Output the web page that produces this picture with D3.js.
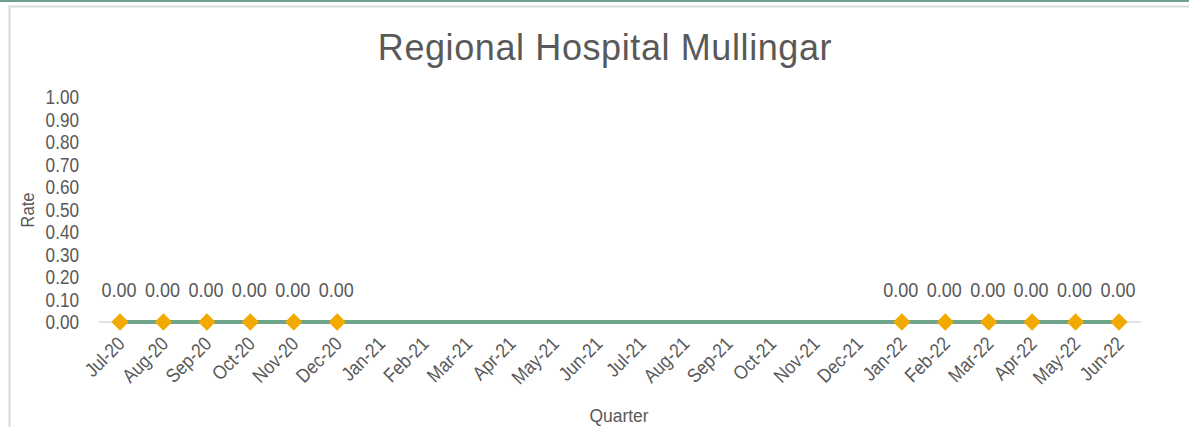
<!DOCTYPE html>
<html>
<head>
<meta charset="utf-8">
<script src="https://cdn.jsdelivr.net/npm/d3@7"></script>
<style>
  body { margin: 0; background: #fff; }
  text { font-family: "Liberation Sans", Arial, sans-serif; fill: #595959; }
</style>
</head>
<body>
<script>
// data
var months = ['Jul-20', 'Aug-20', 'Sep-20', 'Oct-20', 'Nov-20', 'Dec-20', 'Jan-21', 'Feb-21', 'Mar-21', 'Apr-21', 'May-21', 'Jun-21',
  'Jul-21', 'Aug-21', 'Sep-21', 'Oct-21', 'Nov-21', 'Dec-21', 'Jan-22', 'Feb-22', 'Mar-22', 'Apr-22', 'May-22', 'Jun-22']
var rates = [0, 0, 0, 0, 0, 0, null, null, null, null, null, null,
  null, null, null, null, null, null, 0, 0, 0, 0, 0, 0]
var yTicks = [0, 0.1, 0.2, 0.3, 0.4, 0.5, 0.6, 0.7, 0.8, 0.9, 1.0]

var W = 1189
var H = 427
var NARROW = 0.88 // the original uses a condensed-looking face
var svg = d3.select('body').append('svg').attr('width', W).attr('height', H)

// top bar + frame
svg.append('rect').attr('x', 0).attr('y', 0).attr('width', W).attr('height', 2).attr('fill', '#6e9f90')
svg.append('path').attr('d', 'M9.5,' + H + 'V6.5H' + W).attr('fill', 'none').attr('stroke', '#d9d9d9').attr('stroke-width', 2)

var x = d3.scaleBand().domain(months).range([98.3, 1140.7])
var y = d3.scaleLinear().domain([0, 1]).range([322, 97])
function cx (m) { return x(m) + x.bandwidth() / 2 }

// title
svg.append('text').attr('x', 605).attr('y', 60).attr('text-anchor', 'middle')
  .style('font-size', '36px').style('letter-spacing', '0.6px').text('Regional Hospital Mullingar')

// y axis labels
svg.selectAll('.ytick').data(yTicks).enter().append('text')
  .attr('transform', function (d) { return 'translate(79,' + y(d) + ') scale(' + NARROW + ',1)' }).attr('dy', '0.36em')
  .attr('text-anchor', 'end').style('font-size', '19.5px')
  .text(function (d) { return d.toFixed(2) })

// axis line
svg.append('line').attr('x1', x.range()[0]).attr('x2', x.range()[1])
  .attr('y1', y(0)).attr('y2', y(0)).attr('stroke', '#d9d9d9').attr('stroke-width', 1.5)

// x labels
svg.selectAll('.xtick').data(months).enter().append('text')
  .attr('transform', function (d) { return 'translate(' + (cx(d) + 1) + ',' + 340 + ') rotate(-45) scale(' + NARROW + ',1)' })
  .attr('text-anchor', 'end').attr('dy', '0.36em').style('font-size', '19.5px')
  .text(function (d) { return d })

// series
var pts = months.map(function (m, i) { return { m: m, v: rates[i] } }).filter(function (d) { return d.v !== null })
var line = d3.line().x(function (d) { return cx(d.m) }).y(function (d) { return y(d.v) })
svg.append('path').datum(pts).attr('d', line).attr('fill', 'none').attr('stroke', '#6fa38a').attr('stroke-width', 4)

svg.selectAll('.mk').data(pts).enter().append('path')
  .attr('d', d3.symbol().type(d3.symbolDiamond2).size(190))
  .attr('transform', function (d) { return 'translate(' + cx(d.m) + ',' + y(d.v) + ')' })
  .attr('fill', '#f2a900')

svg.selectAll('.lbl').data(pts).enter().append('text')
  .attr('transform', function (d) { return 'translate(' + (cx(d.m) - 1) + ',' + (y(d.v) - 32) + ') scale(0.9,1)' })
  .attr('dy', '0.36em').attr('text-anchor', 'middle').style('font-size', '20px')
  .text(function (d) { return d.v.toFixed(2) })

// axis titles
svg.append('text').attr('transform', 'translate(619,422) scale(0.92,1)').attr('text-anchor', 'middle').style('font-size', '19px').text('Quarter')
svg.append('text').attr('transform', 'translate(34,210) rotate(-90) scale(' + NARROW + ',1)').attr('text-anchor', 'middle').style('font-size', '19px').text('Rate')
</script>
</body>
</html>
